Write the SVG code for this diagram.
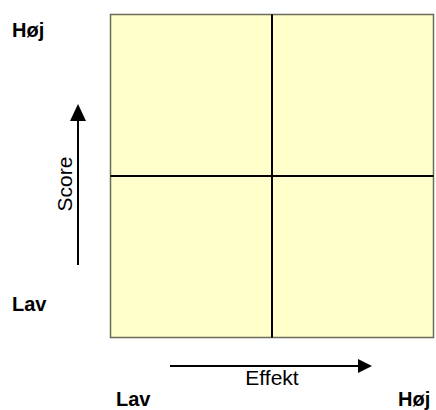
<svg xmlns="http://www.w3.org/2000/svg" width="436" height="410" viewBox="0 0 436 410">
<style>
.lbl{font-family:"Liberation Sans",Arial,sans-serif;font-size:20px;font-weight:bold;fill:#000}
.ax{font-family:"Liberation Sans",Arial,sans-serif;font-size:21px;fill:#000}
.arr{stroke:#000;stroke-width:2;fill:none}
</style>
<rect width="436" height="410" fill="#fff"/>
<g id="grid">
<rect x="110.5" y="14.5" width="323" height="323" fill="#FFFFCC" stroke="#6b6b58" stroke-width="1.5"/>
<line x1="272" y1="14.5" x2="272" y2="337.5" stroke="#000" stroke-width="2"/>
<line x1="110.5" y1="176" x2="433.5" y2="176" stroke="#000" stroke-width="2"/>
</g>
<g id="connectors">
<line class="arr" x1="78" y1="265" x2="78" y2="121"/>
<path d="M70,121 L78,104 L86,121 z" fill="#000"/>
<line class="arr" x1="170" y1="366" x2="358" y2="366"/>
<path d="M358,359 L372,366 L358,373 z" fill="#000"/>
</g>
<g id="labels">
<text class="lbl" x="12" y="37">Høj</text>
<text class="lbl" x="12" y="311">Lav</text>
<text class="lbl" x="116" y="406">Lav</text>
<text class="lbl" x="398" y="406">Høj</text>
<text class="ax" x="272" y="385" text-anchor="middle">Effekt</text>
<text class="ax" transform="translate(72,184) rotate(-90)" text-anchor="middle">Score</text>
</g>
</svg>
